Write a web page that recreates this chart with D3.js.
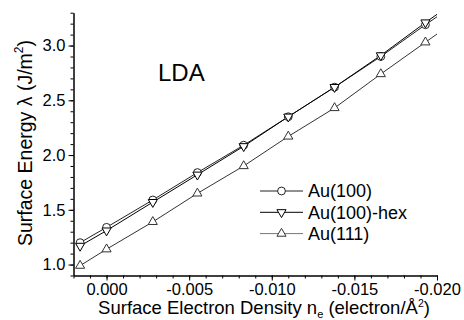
<!DOCTYPE html>
<html>
<head>
<meta charset="utf-8">
<script src="https://cdn.jsdelivr.net/npm/d3@7"></script>
<style>
  body { margin: 0; background: #fff; }
  svg { display: block; font-family: "Liberation Sans", Arial, sans-serif; }
</style>
</head>
<body>
<div id="chart"></div>
<script>
// surface electron density n_e (electron/A^2); last point sits past the axis end and is clipped
const densities = [0.0016, 0, -0.0028, -0.0055, -0.0083, -0.011, -0.0138, -0.0166, -0.0193, -0.0221];
const au100 = [1.20, 1.34, 1.59, 1.84, 2.09, 2.35, 2.62, 2.90, 3.19, 3.48];
const au100hex = [1.17, 1.31, 1.57, 1.82, 2.08, 2.35, 2.62, 2.91, 3.21, 3.51];
const au111 = [0.99, 1.14, 1.39, 1.65, 1.90, 2.17, 2.43, 2.74, 3.03, 3.33];
const seriesNames = ['Au(100)', 'Au(100)-hex', 'Au(111)'];
const xTicks = [0, -0.005, -0.010, -0.015, -0.020];
const yTicks = [1.0, 1.5, 2.0, 2.5, 3.0];

const width = 464;
const height = 320;

const svg = d3.select('#chart').append('svg')
  .attr('width', width)
  .attr('height', height);

const x = d3.scaleLinear().domain([0.002, -0.020]).range([73.5, 437]);
const y = d3.scaleLinear().domain([0.9, 3.3]).range([275.5, 12.7]);

svg.append('clipPath').attr('id', 'plot-clip')
  .append('rect')
  .attr('x', x.range()[0]).attr('y', y.range()[1])
  .attr('width', x.range()[1] - x.range()[0])
  .attr('height', y.range()[0] - y.range()[1]);

// minor ticks
const xMinor = d3.range(0, 23).map(i => +(0.002 - i * 0.001).toFixed(3));
const yMinor = d3.range(0, 25).map(i => +(0.9 + i * 0.1).toFixed(1));

const gx = svg.append('g').attr('transform', `translate(0, ${y.range()[0]})`);
gx.call(d3.axisBottom(x).tickValues(xMinor).tickSize(3).tickSizeOuter(0).tickFormat(''));
gx.append('g').call(d3.axisBottom(x).tickValues(xTicks).tickSize(5).tickSizeOuter(0)
  .tickPadding(3).tickFormat(d => d.toFixed(3)));

const gy = svg.append('g').attr('transform', `translate(${x.range()[0]}, 0)`);
gy.call(d3.axisLeft(y).tickValues(yMinor).tickSize(3).tickSizeOuter(0).tickFormat(''));
gy.append('g').call(d3.axisLeft(y).tickValues(yTicks).tickSize(5).tickSizeOuter(0)
  .tickPadding(3).tickFormat(d => d.toFixed(1)));

svg.selectAll('.tick text')
  .attr('font-size', 16.5)
  .attr('font-family', '"Liberation Sans", Arial, sans-serif')
  .attr('fill', '#000');
svg.selectAll('.domain, .tick line').attr('stroke', '#000');

// axis titles
const xTitle = svg.append('text')
  .attr('x', 264).attr('y', 313.5)
  .attr('text-anchor', 'middle')
  .attr('font-size', 18.5);
xTitle.append('tspan').text('Surface Electron Density n');
xTitle.append('tspan').attr('font-size', 11).attr('dy', 4).text('e');
xTitle.append('tspan').attr('dy', -4).text(' (electron/\u00c5');
xTitle.append('tspan').attr('font-size', 10.5).attr('dy', -6.5).text('2');
xTitle.append('tspan').attr('dy', 6.5).text(')');

const yTitle = svg.append('text')
  .attr('transform', 'translate(32, 143) rotate(-90)')
  .attr('text-anchor', 'middle')
  .attr('font-size', 19.5);
yTitle.append('tspan').text('Surface Energy \u03bb (J/m');
yTitle.append('tspan').attr('font-size', 12).attr('dy', -9).text('2');
yTitle.append('tspan').attr('dy', 9).text(')');

svg.append('text')
  .attr('x', 158).attr('y', 81)
  .attr('font-size', 24)
  .text('LDA');

// series
const series = [
  { name: seriesNames[0], values: au100, symbol: d3.symbolCircle, size: 48, rotate: 0, color: '#222' },
  { name: seriesNames[1], values: au100hex, symbol: d3.symbolTriangle, size: 36, rotate: 180, color: '#000' },
  { name: seriesNames[2], values: au111, symbol: d3.symbolTriangle, size: 36, rotate: 0, color: '#333' }
];

const plot = svg.append('g').attr('clip-path', 'url(#plot-clip)');
const line = d3.line().x(d => x(d[0])).y(d => y(d[1]));

series.forEach(s => {
  const pts = densities.map((d, i) => [d, s.values[i]]);
  plot.append('path')
    .datum(pts)
    .attr('d', line)
    .attr('fill', 'none')
    .attr('stroke', s.color)
    .attr('stroke-width', 1);
});

series.forEach(s => {
  const pts = densities.map((d, i) => [d, s.values[i]]).filter(p => p[0] >= -0.020);
  plot.selectAll(null)
    .data(pts)
    .join('path')
    .attr('transform', d => `translate(${x(d[0])}, ${y(d[1])}) rotate(${s.rotate})`)
    .attr('d', d3.symbol().type(s.symbol).size(s.size))
    .attr('fill', '#fff')
    .attr('stroke', s.color)
    .attr('stroke-width', 1);
});

// legend
const legend = svg.append('g').attr('transform', 'translate(260, 191)');
const rows = legend.selectAll('g')
  .data(series)
  .join('g')
  .attr('transform', (d, i) => `translate(0, ${i * 21.3})`);

rows.append('line')
  .attr('x1', 0).attr('x2', 43)
  .attr('stroke', d => d.name === 'Au(111)' ? '#777' : d.color)
  .attr('stroke-width', 1);

rows.append('path')
  .attr('transform', d => `translate(21.5, 0) rotate(${d.rotate})`)
  .attr('d', d => d3.symbol().type(d.symbol).size(d.size)())
  .attr('fill', '#fff')
  .attr('stroke', d => d.color);

rows.append('text')
  .attr('x', 48)
  .attr('dy', '0.35em')
  .attr('font-size', 18)
  .text(d => d.name);
</script>
</body>
</html>
